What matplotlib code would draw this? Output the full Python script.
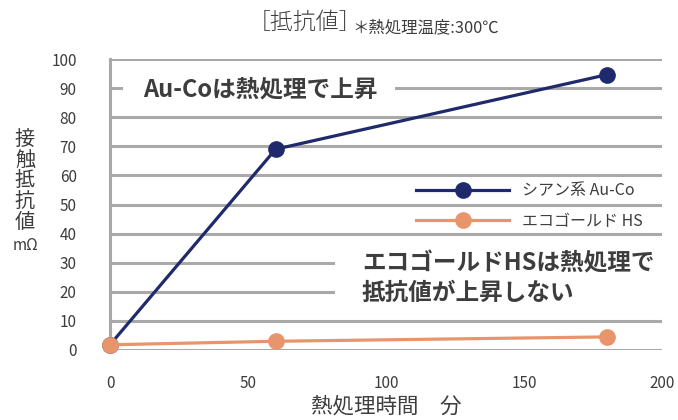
import matplotlib
matplotlib.use("Agg")
import matplotlib.pyplot as plt
from matplotlib.patches import Rectangle

plt.rcParams['font.family'] = ['Noto Sans CJK JP', 'DejaVu Sans']

minutes = [0, 60, 180]
auco = [1.8, 69, 94.6]
ecogold = [1.8, 3.0, 4.5]
series_names = ["シアン系 Au-Co", "エコゴールド HS"]
xticks = [0, 50, 100, 150, 200]
yticks = [0, 10, 20, 30, 40, 50, 60, 70, 80, 90, 100]

NAVY = "#1f2a6d"
ORANGE = "#e8956c"
GRID = "#a9a9a9"
TXT = "#3d3d3d"

fig = plt.figure(figsize=(6.78, 4.2), dpi=100)
ax = fig.add_axes([110/678, 1-350/420, 552/678, 291/420])
ax.set_xlim(0, 200)
ax.set_ylim(0, 100)
ax.set_xticks(xticks)
ax.set_yticks(yticks)
ax.tick_params(length=0, labelsize=11, colors=TXT)
ax.tick_params(axis='y', pad=24)
ax.tick_params(axis='x', pad=18)
for s in ['top', 'right', 'bottom']:
    ax.spines[s].set_visible(False)
ax.spines['left'].set_color(GRID)
ax.spines['left'].set_linewidth(2.2)
ax.yaxis.grid(True, color=GRID, linewidth=2.2)
ax.set_axisbelow(True)

l1, = ax.plot(minutes, auco, color=NAVY, lw=2.3, marker='o', ms=11, zorder=4,
              clip_on=False, label=series_names[0])
l2, = ax.plot(minutes, ecogold, color=ORANGE, lw=2.3, marker='o', ms=11, zorder=5,
              clip_on=False, label=series_names[1])

leg = ax.legend(handles=[l1, l2], loc='upper left', bbox_to_anchor=(300/552, (350-176)/291),
                frameon=False, fontsize=11.5, handlelength=5.8, handletextpad=0.8,
                labelspacing=0.85, borderaxespad=0)
for t in leg.get_texts():
    t.set_color(TXT)

# white masks behind annotations (above grid, below lines)
ax.add_patch(Rectangle((123/678, 1-102/420), (395-123)/678, 26/420, transform=fig.transFigure,
                       facecolor='white', edgecolor='none', zorder=1, clip_on=False))
ax.add_patch(Rectangle((335/678, 1-305/420), (678-335)/678, 60/420, transform=fig.transFigure,
                       facecolor='white', edgecolor='none', zorder=1, clip_on=False))

# annotations
ax.text(143/678, 1-89/420, "Au-Coは熱処理で上昇", transform=fig.transFigure,
        fontsize=17, fontweight='bold', color=TXT, va='center', ha='left', zorder=3)
ax.text(362/678, 1-278/420, "エコゴールドHSは熱処理で\n抵抗値が上昇しない", transform=fig.transFigure,
        fontsize=17, fontweight='bold', color=TXT, va='center', ha='left', zorder=3,
        linespacing=1.3)

# titles
fig.text(248/678, 1-22/420, "［抵抗値］", fontsize=16.5, fontweight='light', color=TXT,
         va='center', ha='left')
fig.text(352/678, 1-28/420, "＊熱処理温度:300℃", fontsize=11.8, color=TXT, va='center', ha='left')

# axis labels
fig.text(386/678, 1-407/420, "熱処理時間　分", fontsize=15.5, color=TXT, va='center', ha='center')
fig.text(25/678, 1-181/420, "\n".join("接触抵抗値"), fontsize=14.5, color=TXT, va='center',
         ha='center', linespacing=0.98)
fig.text(25/678, 1-245/420, "mΩ", fontsize=11, color=TXT, va='center', ha='center')

fig.savefig("out.png", dpi=100)
